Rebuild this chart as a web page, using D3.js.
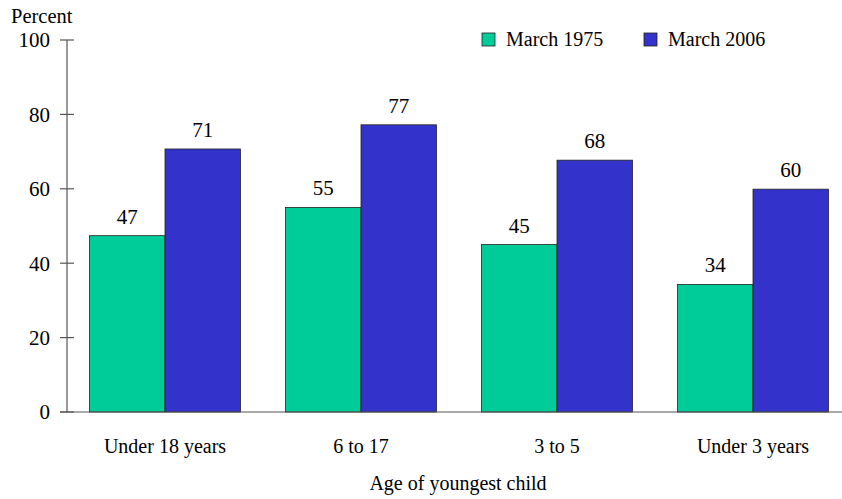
<!DOCTYPE html>
<html>
<head>
<meta charset="utf-8">
<script src="https://cdn.jsdelivr.net/npm/d3@7"></script>
<style>
  body { margin: 0; background: #fff; }
  text { font-family: "Liberation Serif", "Times New Roman", serif; fill: #000; }
</style>
</head>
<body>
<div id="chart"></div>
<script>
// Data
const categories = ["Under 18 years", "6 to 17", "3 to 5", "Under 3 years"]
const seriesNames = ["March 1975", "March 2006"]
const values1975 = [47.4, 55, 45, 34.3]
const values2006 = [70.7, 77.2, 67.7, 59.9]
const labels1975 = ["47", "55", "45", "34"]
const labels2006 = ["71", "77", "68", "60"]
const yTicks = [0, 20, 40, 60, 80, 100]
const colors = ["#00cc99", "#3333cc"]

const width = 842
const height = 499
const margin = {top: 40, left: 67, bottom: 87}

const svg = d3.select("#chart").append("svg")
    .attr("width", width)
    .attr("height", height)

const y = d3.scaleLinear()
    .domain([0, 100])
    .range([height - margin.bottom, margin.top])

const x = d3.scaleBand()
    .domain(categories)
    .range([margin.left, margin.left + 784])
    .paddingInner(0.23)
    .paddingOuter(0.115)

const xSub = d3.scaleBand()
    .domain(seriesNames)
    .range([0, x.bandwidth()])

const rows = categories.map((c, i) => ({
    cat: c,
    vals: [
        {s: seriesNames[0], v: values1975[i], label: labels1975[i]},
        {s: seriesNames[1], v: values2006[i], label: labels2006[i]},
    ]
}))

// bars
const groups = svg.selectAll(".group")
    .data(rows)
    .enter().append("g")
    .attr("transform", d => `translate(${x(d.cat)},0)`)

groups.selectAll("rect")
    .data(d => d.vals)
    .enter().append("rect")
    .attr("x", d => xSub(d.s))
    .attr("y", d => y(d.v))
    .attr("width", xSub.bandwidth())
    .attr("height", d => y(0) - y(d.v))
    .attr("fill", (d, i) => colors[i])
    .attr("stroke", "#222")
    .attr("stroke-width", 0.8)

groups.selectAll(".val")
    .data(d => d.vals)
    .enter().append("text")
    .attr("x", d => xSub(d.s) + xSub.bandwidth() / 2)
    .attr("y", d => y(d.v) - 12)
    .attr("text-anchor", "middle")
    .style("font-size", "21px")
    .text(d => d.label)

// y axis
const yAxis = svg.append("g")
    .attr("transform", `translate(${margin.left},0)`)
yAxis.append("line")
    .attr("y1", y(0)).attr("y2", y(100))
    .attr("stroke", "#555").attr("stroke-width", 1.2)
yAxis.selectAll(".tick")
    .data(yTicks)
    .enter().append("line")
    .attr("x1", -7).attr("x2", 7)
    .attr("y1", d => y(d)).attr("y2", d => y(d))
    .attr("stroke", "#555").attr("stroke-width", 1.2)
yAxis.selectAll(".tlabel")
    .data(yTicks)
    .enter().append("text")
    .attr("x", -17)
    .attr("y", d => y(d))
    .attr("dy", "0.35em")
    .attr("text-anchor", "end")
    .style("font-size", "21px")
    .text(d => d)

// baseline
svg.append("line")
    .attr("x1", margin.left - 7).attr("x2", width)
    .attr("y1", y(0)).attr("y2", y(0))
    .attr("stroke", "#555").attr("stroke-width", 1.2)

svg.append("text")
    .attr("x", 11).attr("y", 23)
    .style("font-size", "20.5px")
    .text("Percent")

// x labels
svg.selectAll(".xlabel")
    .data(categories)
    .enter().append("text")
    .attr("x", d => x(d) + x.bandwidth() / 2)
    .attr("y", 453)
    .attr("text-anchor", "middle")
    .style("font-size", "20px")
    .text(d => d)

svg.append("text")
    .attr("x", 458).attr("y", 490)
    .attr("text-anchor", "middle")
    .style("font-size", "20px")
    .text("Age of youngest child")

// legend
const legendX = [482, 644]
const legend = svg.selectAll(".legend")
    .data(seriesNames)
    .enter().append("g")
    .attr("transform", (d, i) => `translate(${legendX[i]},33)`)
legend.append("rect")
    .attr("width", 13).attr("height", 13)
    .attr("fill", (d, i) => colors[i])
    .attr("stroke", "#222").attr("stroke-width", 0.8)
legend.append("text")
    .attr("x", 24).attr("y", 13)
    .style("font-size", "20px")
    .text(d => d)
</script>
</body>
</html>
